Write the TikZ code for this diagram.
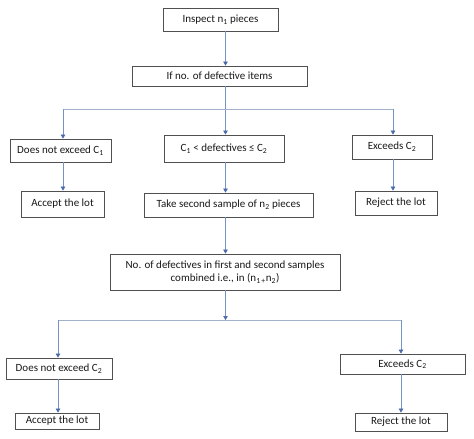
\documentclass[tikz,border=0pt]{standalone}
\usepackage{fontspec}
\setmainfont{Carlito}
\usetikzlibrary{arrows.meta}
\definecolor{linkc}{HTML}{7891C4}
\definecolor{hlinec}{HTML}{A3B1CB}
\definecolor{tipc}{HTML}{4A69A8}
\definecolor{boxc}{HTML}{505050}
\begin{document}
\begin{tikzpicture}[x=1pt,y=-1pt,
  box/.style={draw=boxc,line width=0.8pt,inner sep=1pt,font=\fontsize{11}{14}\selectfont,text=black!90},
  conn/.style={draw=linkc,line width=0.7pt},
  hconn/.style={draw=hlinec,line width=0.7pt},
  arr/.style={conn,-{Triangle[length=4pt,width=4.5pt,color=tipc]}}]
\useasboundingbox[fill=white] (0,0) rectangle (474,439);
\node[box,minimum width=115pt,minimum height=23pt] (insp) at (220.5,19.5) {Inspect n\textsubscript{1} pieces};
\node[box,minimum width=175pt,minimum height=20pt] (ifno) at (219.5,76) {If no. of defective items};
\node[box,minimum width=101pt,minimum height=23pt] (dne1) at (60.5,150.5) {Does not exceed C\textsubscript{1}};
\node[box,minimum width=120pt,minimum height=27pt] (mid) at (224,148.5) {C\textsubscript{1} < defectives ≤ C\textsubscript{2}};
\node[box,minimum width=80pt,minimum height=24pt] (exc1) at (392,147) {Exceeds C\textsubscript{2}};
\node[box,minimum width=83pt,minimum height=26pt] (acc1) at (62.5,204) {Accept the lot};
\node[box,minimum width=169pt,minimum height=24pt] (take) at (228.5,205) {Take second sample of n\textsubscript{2} pieces};
\node[box,minimum width=82pt,minimum height=24pt] (rej1) at (396,203) {Reject the lot};
\node[box,minimum width=230pt,minimum height=36pt,align=center] (comb) at (225,272) {No. of defectives in first and second samples\\[-1pt]combined i.e., in (n\textsubscript{1\,+}n\textsubscript{2})};
\node[box,minimum width=106pt,minimum height=21pt] (dne2) at (59,368.5) {Does not exceed C\textsubscript{2}};
\node[box,minimum width=125pt,minimum height=20pt] (exc2) at (402.5,364) {Exceeds C\textsubscript{2}};
\node[box,minimum width=84pt,minimum height=16pt] (acc2) at (57,421) {Accept the lot};
\node[box,minimum width=92pt,minimum height=18pt] (rej2) at (401,422) {Reject the lot};
% branch coordinates
\coordinate (sp) at (225.5,0);
\coordinate (hL1) at (63,109);
\coordinate (hR1) at (393,109);
\coordinate (hL2) at (58,320);
\coordinate (hC2) at (225.5,320);
\coordinate (hR2) at (401,320);
% connectors
\draw[arr] (insp.south -| sp) -- (ifno.north -| sp);
\draw[arr] (ifno.south -| sp) -- (mid.north -| sp);
\draw[hconn] (hL1) -- (hR1);
\draw[arr] (hL1) -- (dne1.north -| hL1);
\draw[arr] (hR1) -- (exc1.north -| hR1);
\draw[arr] (dne1.south -| hL1) -- (acc1.north -| hL1);
\draw[arr] (mid.south -| sp) -- (take.north -| sp);
\draw[arr] (exc1.south -| hR1) -- (rej1.north -| hR1);
\draw[arr] (take.south -| sp) -- (comb.north -| sp);
\draw[arr] (comb.south -| sp) -- (hC2);
\draw[hconn] (hL2) -- (hR2);
\draw[arr] (hL2) -- (dne2.north -| hL2);
\draw[arr] (hR2) -- (exc2.north -| hR2);
\draw[arr] (dne2.south -| hL2) -- (acc2.north -| hL2);
\draw[arr] (exc2.south -| hR2) -- (rej2.north -| hR2);
\end{tikzpicture}
\end{document}
